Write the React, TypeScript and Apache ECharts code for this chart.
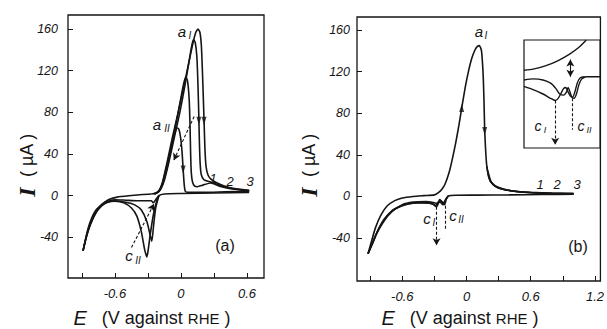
import React, { useEffect, useRef } from "react";
import * as echarts from "echarts";

// ---------- axis ticks / labels ----------
const yTickValues = [-40, 0, 40, 80, 120, 160];
const aXTicks = [-0.9, -0.6, -0.3, 0, 0.3, 0.6];
const aXLabels = [-0.6, 0, 0.6];
const bXTicks = [-0.9, -0.6, -0.3, 0, 0.3, 0.6, 0.9, 1.2];
const bXLabels = [-0.6, 0, 0.6, 1.2];

// ---------- panel (a): E (V vs RHE), I (uA) ----------
const aFoot = [[-0.89, -53], [-0.86, -40], [-0.82, -27], [-0.77, -16], [-0.72, -9], [-0.66, -4], [-0.58, -1.5], [-0.45, 0], [-0.35, 1], [-0.27, 1.5]];
const aCurve1 = [[-0.27, 1.5], [-0.23, 2.5], [-0.2, 5], [-0.17, 12], [-0.13, 30], [-0.08, 55], [-0.03, 78], [0.02, 102], [0.07, 127], [0.11, 147], [0.135, 157], [0.155, 160], [0.172, 157], [0.185, 145], [0.195, 120], [0.203, 95], [0.21, 72], [0.218, 45], [0.228, 28], [0.245, 20], [0.27, 16], [0.32, 12.5], [0.4, 9], [0.5, 6.5], [0.62, 5]];
const aCurve2 = [[-0.25, 1.5], [-0.21, 3], [-0.18, 7], [-0.15, 15], [-0.11, 32], [-0.06, 56], [-0.01, 80], [0.04, 108], [0.08, 133], [0.1, 145], [0.115, 150], [0.13, 147], [0.145, 133], [0.155, 105], [0.162, 78], [0.168, 50], [0.175, 30], [0.185, 20], [0.21, 15], [0.27, 13], [0.35, 10], [0.45, 7], [0.62, 4.5]];
const aCurve3 = [[-0.24, 1.5], [-0.2, 4], [-0.17, 10], [-0.13, 25], [-0.08, 50], [-0.03, 77], [0.01, 100], [0.03, 110], [0.045, 114], [0.06, 110], [0.075, 92], [0.083, 65], [0.088, 40], [0.094, 22], [0.105, 13], [0.125, 9], [0.15, 8.5], [0.2, 10], [0.27, 12], [0.35, 9], [0.45, 6.5], [0.62, 4.5]];
const aCurve4 = [[-0.24, 1.5], [-0.2, 4], [-0.17, 11], [-0.13, 28], [-0.09, 46], [-0.055, 60], [-0.035, 65], [-0.02, 64], [-0.005, 57], [0.01, 42], [0.02, 25], [0.03, 10], [0.04, 4], [0.07, 3], [0.2, 3], [0.4, 3.5], [0.62, 4]];
const aCath1 = [[0.62, 3], [0.3, 2.5], [0, 2], [-0.15, 1.5], [-0.2, 0], [-0.22, -5], [-0.25, -18], [-0.28, -38], [-0.3, -54], [-0.31, -59], [-0.33, -52], [-0.36, -35], [-0.4, -20], [-0.45, -12], [-0.52, -7], [-0.6, -5.5], [-0.68, -7], [-0.75, -13], [-0.8, -22], [-0.85, -35], [-0.89, -53]];
const aCath2 = [[-0.2, 0], [-0.23, -12], [-0.25, -30], [-0.265, -44], [-0.28, -38], [-0.31, -25], [-0.36, -14], [-0.42, -9], [-0.5, -6.5], [-0.6, -5], [-0.7, -8], [-0.78, -17], [-0.84, -32], [-0.89, -53]];
const aCath3 = [[-0.2, 0], [-0.23, -4], [-0.25, -7], [-0.27, -5], [-0.3, -5], [-0.4, -5], [-0.5, -4.5], [-0.6, -4], [-0.7, -7], [-0.78, -15], [-0.84, -30], [-0.89, -53]];
const aArrowsDown = [[0.21, 72], [0.163, 72], [0.02, 25]];
const aDashArrows = [[[0.12, 76], [-0.065, 34]], [[-0.45, -50], [-0.245, -8]]];

// ---------- panel (b) ----------
const bAnodic = [[-0.92, -55], [-0.89, -44], [-0.85, -30], [-0.8, -18], [-0.74, -9], [-0.67, -4], [-0.6, -1.5], [-0.5, 0], [-0.4, 0.8], [-0.3, 1.5], [-0.26, 4], [-0.23, 7], [-0.2, 12], [-0.16, 24], [-0.13, 37], [-0.1, 52], [-0.07, 69], [-0.04, 88], [-0.01, 106], [0.02, 121], [0.05, 133], [0.08, 141], [0.1, 144], [0.12, 145], [0.14, 140], [0.155, 118], [0.163, 93], [0.17, 63], [0.18, 42], [0.19, 29], [0.22, 15], [0.27, 10], [0.35, 7], [0.45, 5], [0.6, 4], [0.8, 3.2], [1.0, 3]];
const bTail2 = [[0.19, 29], [0.21, 18], [0.25, 11], [0.32, 7.5], [0.45, 5], [0.6, 3.5], [0.8, 2.8], [1.0, 2.6]];
const bTail3 = [[0.2, 24], [0.23, 14], [0.28, 9], [0.38, 6], [0.55, 4], [0.75, 3], [1.0, 2.4]];
const bCath1 = [[1.0, 2.2], [0.7, 1.8], [0.4, 1.5], [0.1, 1.3], [-0.1, 1.2], [-0.17, 0.5], [-0.19, -3], [-0.205, -8], [-0.22, -7], [-0.24, -4], [-0.26, -6], [-0.28, -10], [-0.3, -8], [-0.35, -6.5], [-0.45, -6], [-0.55, -7], [-0.63, -10], [-0.7, -14], [-0.77, -22], [-0.83, -33], [-0.88, -45], [-0.92, -55]];
const bCath2 = [[-0.17, 0.5], [-0.2, -4], [-0.22, -8], [-0.24, -6], [-0.26, -5], [-0.29, -9], [-0.32, -7], [-0.4, -6], [-0.5, -6.5], [-0.6, -9], [-0.68, -13], [-0.75, -20], [-0.82, -31], [-0.88, -46], [-0.92, -55]];
const bCath3 = [[-0.17, 0.5], [-0.19, -2], [-0.21, -6], [-0.23, -5], [-0.25, -3], [-0.27, -7], [-0.3, -6], [-0.38, -5], [-0.5, -5.5], [-0.6, -8], [-0.7, -15], [-0.78, -25], [-0.85, -38], [-0.92, -55]];
const bArrowsUp = [[-0.045, 85]];
const bArrowsDown = [[0.17, 63]];
const bDashArrow = [[[-0.28, -10], [-0.28, -47]]];
const bDashPlain = [[[-0.2, -9], [-0.2, -33]]];

// ---------- inset of (b): arbitrary units 0..100 ----------
const insetArc = [[82, 100], [72, 93], [60, 87], [45, 81], [28, 76], [12, 73], [0, 72]];
const insetUpper = [[0, 63], [12, 64], [25, 63], [35, 60], [42, 55], [47, 50], [52, 49], [56, 52], [58, 56], [60, 53], [63, 47], [66, 46], [69, 50], [72, 58], [76, 64], [82, 66], [100, 66]];
const insetLower = [[0, 57], [12, 54], [25, 50], [35, 46], [41, 44], [45, 46], [49, 51], [52, 55], [55, 56], [58, 52], [61, 48], [64, 47], [67, 52], [70, 60], [74, 65], [80, 66]];
const insetDoubleArrow = [[[61, 66], [61, 82]]];
const insetDashArrow = [[[41, 44], [41, 3]]];
const insetDashPlain = [[[63, 46], [63, 17]]];

const INK = "#151515";
const FONT = "Liberation Sans";

function curve(data: number[][], g: number, w = 1.6) {
  return {
    type: "line", xAxisIndex: g, yAxisIndex: g, data, symbol: "none", smooth: 0.2,
    lineStyle: { color: INK, width: w }, silent: true, z: 3,
  };
}
function arrows(data: number[][], g: number, rot: number) {
  return {
    type: "scatter", xAxisIndex: g, yAxisIndex: g, data, symbol: "triangle", symbolSize: [5, 8],
    symbolRotate: rot, itemStyle: { color: INK }, silent: true, z: 4,
  };
}
function marks(pairs: number[][][], g: number, sym: string[], dashed: boolean) {
  return {
    type: "line", xAxisIndex: g, yAxisIndex: g, data: [pairs[0][0]], symbol: "none",
    lineStyle: { opacity: 0 }, silent: true,
    markLine: {
      silent: true, animation: false, symbol: sym, symbolSize: [6, 7],
      lineStyle: { type: dashed ? [3, 2] : "solid", color: INK, width: 1.1 },
      label: { show: false },
      emphasis: { disabled: true },
      data: pairs.map(([p, q]) => [{ coord: p }, { coord: q }]),
    },
  };
}
const fmt = (v: number) => (v === 0 ? "0" : String(Math.round(v * 10) / 10));

function xAxis(g: number, min: number, max: number, ticks: number[], labels: number[]) {
  return {
    type: "value", gridIndex: g, min, max, splitLine: { show: false },
    axisLine: { show: false, onZero: false },
    axisTick: { show: true, inside: true, length: 5, customValues: ticks, lineStyle: { color: INK, width: 1 } },
    axisLabel: { customValues: labels, formatter: fmt, margin: 9, fontSize: 13, fontStyle: "italic", fontFamily: FONT, color: INK },
  };
}
function yAxis(g: number, min: number, max: number, margin: number) {
  return {
    type: "value", gridIndex: g, min, max, splitLine: { show: false },
    axisLine: { show: false, onZero: false },
    axisTick: { show: true, inside: true, length: 5, customValues: yTickValues, lineStyle: { color: INK, width: 1 } },
    axisLabel: { customValues: yTickValues, formatter: fmt, margin, fontSize: 12.5, fontStyle: "italic", fontFamily: FONT, color: INK },
  };
}

function txt(x: number, y: number, text: string, size: number, italic = true) {
  return {
    type: "text", x, y, silent: true,
    style: { text, fontSize: size, fontFamily: FONT, fontStyle: italic ? "italic" : "normal", fill: INK, align: "center", verticalAlign: "middle" },
  };
}
function yTitle(x: number, y: number) {
  return {
    type: "text", x, y, rotation: Math.PI / 2, silent: true,
    style: {
      text: "{i|I}  ( µA )",
      rich: { i: { fontFamily: "Liberation Serif", fontStyle: "italic", fontWeight: "bold", fontSize: 24, fill: INK } },
      fontSize: 18, fontFamily: FONT, fill: INK, align: "center", verticalAlign: "middle",
    },
  };
}
function xTitle(x: number, y: number) {
  return {
    type: "text", x, y, silent: true,
    style: {
      text: "{e|E}   (V against {r|RHE} )",
      rich: {
        e: { fontStyle: "italic", fontSize: 20, fontFamily: FONT, fill: INK },
        r: { fontSize: 15, fontFamily: FONT, fill: INK },
      },
      fontSize: 18, fontFamily: FONT, fill: INK, align: "center", verticalAlign: "middle",
    },
  };
}

export default function App() {
  const ref = useRef<HTMLDivElement>(null);
  useEffect(() => {
    if (!ref.current) return;
    const chart = echarts.init(ref.current, null, { renderer: "svg" });
    const option = {
      animation: false,
      backgroundColor: "#ffffff",
      grid: [
        { left: 68, top: 15, width: 196, height: 263, show: true, borderColor: INK, borderWidth: 1.3, backgroundColor: "transparent" },
        { left: 357, top: 17, width: 249, height: 264, show: true, borderColor: INK, borderWidth: 1.3, backgroundColor: "transparent" },
        { left: 524, top: 40, width: 76, height: 108, show: true, borderColor: INK, borderWidth: 1.2, backgroundColor: "#fff" },
      ],
      xAxis: [
        xAxis(0, -1.027, 0.755, aXTicks, aXLabels),
        xAxis(1, -1.023, 1.251, bXTicks, bXLabels),
        { type: "value", gridIndex: 2, min: 0, max: 100, show: false },
      ],
      yAxis: [
        yAxis(0, -79.3, 173.6, 10),
        yAxis(1, -81.3, 172.5, 7),
        { type: "value", gridIndex: 2, min: 0, max: 100, show: false },
      ],
      series: [
        curve(aFoot, 0), curve(aCurve1, 0), curve(aCurve2, 0), curve(aCurve3, 0), curve(aCurve4, 0),
        curve(aCath1, 0), curve(aCath2, 0), curve(aCath3, 0),
        arrows(aArrowsDown, 0, 180),
        marks(aDashArrows, 0, ["none", "arrow"], true),
        curve(bAnodic, 1), curve(bTail2, 1), curve(bTail3, 1),
        curve(bCath1, 1), curve(bCath2, 1), curve(bCath3, 1),
        arrows(bArrowsUp, 1, 0), arrows(bArrowsDown, 1, 180),
        marks(bDashArrow, 1, ["none", "arrow"], true),
        marks(bDashPlain, 1, ["none", "none"], true),
        curve(insetArc, 2, 1.4), curve(insetUpper, 2, 1.4), curve(insetLower, 2, 1.4),
        marks(insetDoubleArrow, 2, ["arrow", "arrow"], false),
        marks(insetDashArrow, 2, ["none", "arrow"], true),
        marks(insetDashPlain, 2, ["none", "none"], true),
      ],
      graphic: [
        yTitle(27, 165), yTitle(309, 165),
        xTitle(152, 318), xTitle(460, 318),
        txt(182, 31, "a", 15), txt(190, 35, "I", 10),
        txt(157, 124, "a", 15), txt(167, 128, "II", 10),
        txt(129, 255, "c", 15), txt(138, 260, "II", 10),
        txt(225, 245, "(a)", 16, false),
        txt(213, 178, "1", 13), txt(230, 181, "2", 13), txt(250, 181, "3", 13),
        txt(479, 31, "a", 15), txt(486, 35, "I", 10),
        txt(427, 218, "c", 15), txt(434, 222, "I", 10),
        txt(453, 215, "c", 15), txt(461, 219, "II", 10),
        txt(578, 246, "(b)", 16, false),
        txt(540, 184, "1", 13), txt(557, 184, "2", 13), txt(577, 184, "3", 13),
        txt(538, 126, "c", 14), txt(545, 130, "I", 9),
        txt(581, 126, "c", 14), txt(589, 130, "II", 9),
      ],
    };
    chart.setOption(option as any);
    return () => chart.dispose();
  }, []);
  return <div ref={ref} style={{ position: "fixed", left: 0, top: 0, width: 607, height: 329, background: "#fff" }} />;
}
